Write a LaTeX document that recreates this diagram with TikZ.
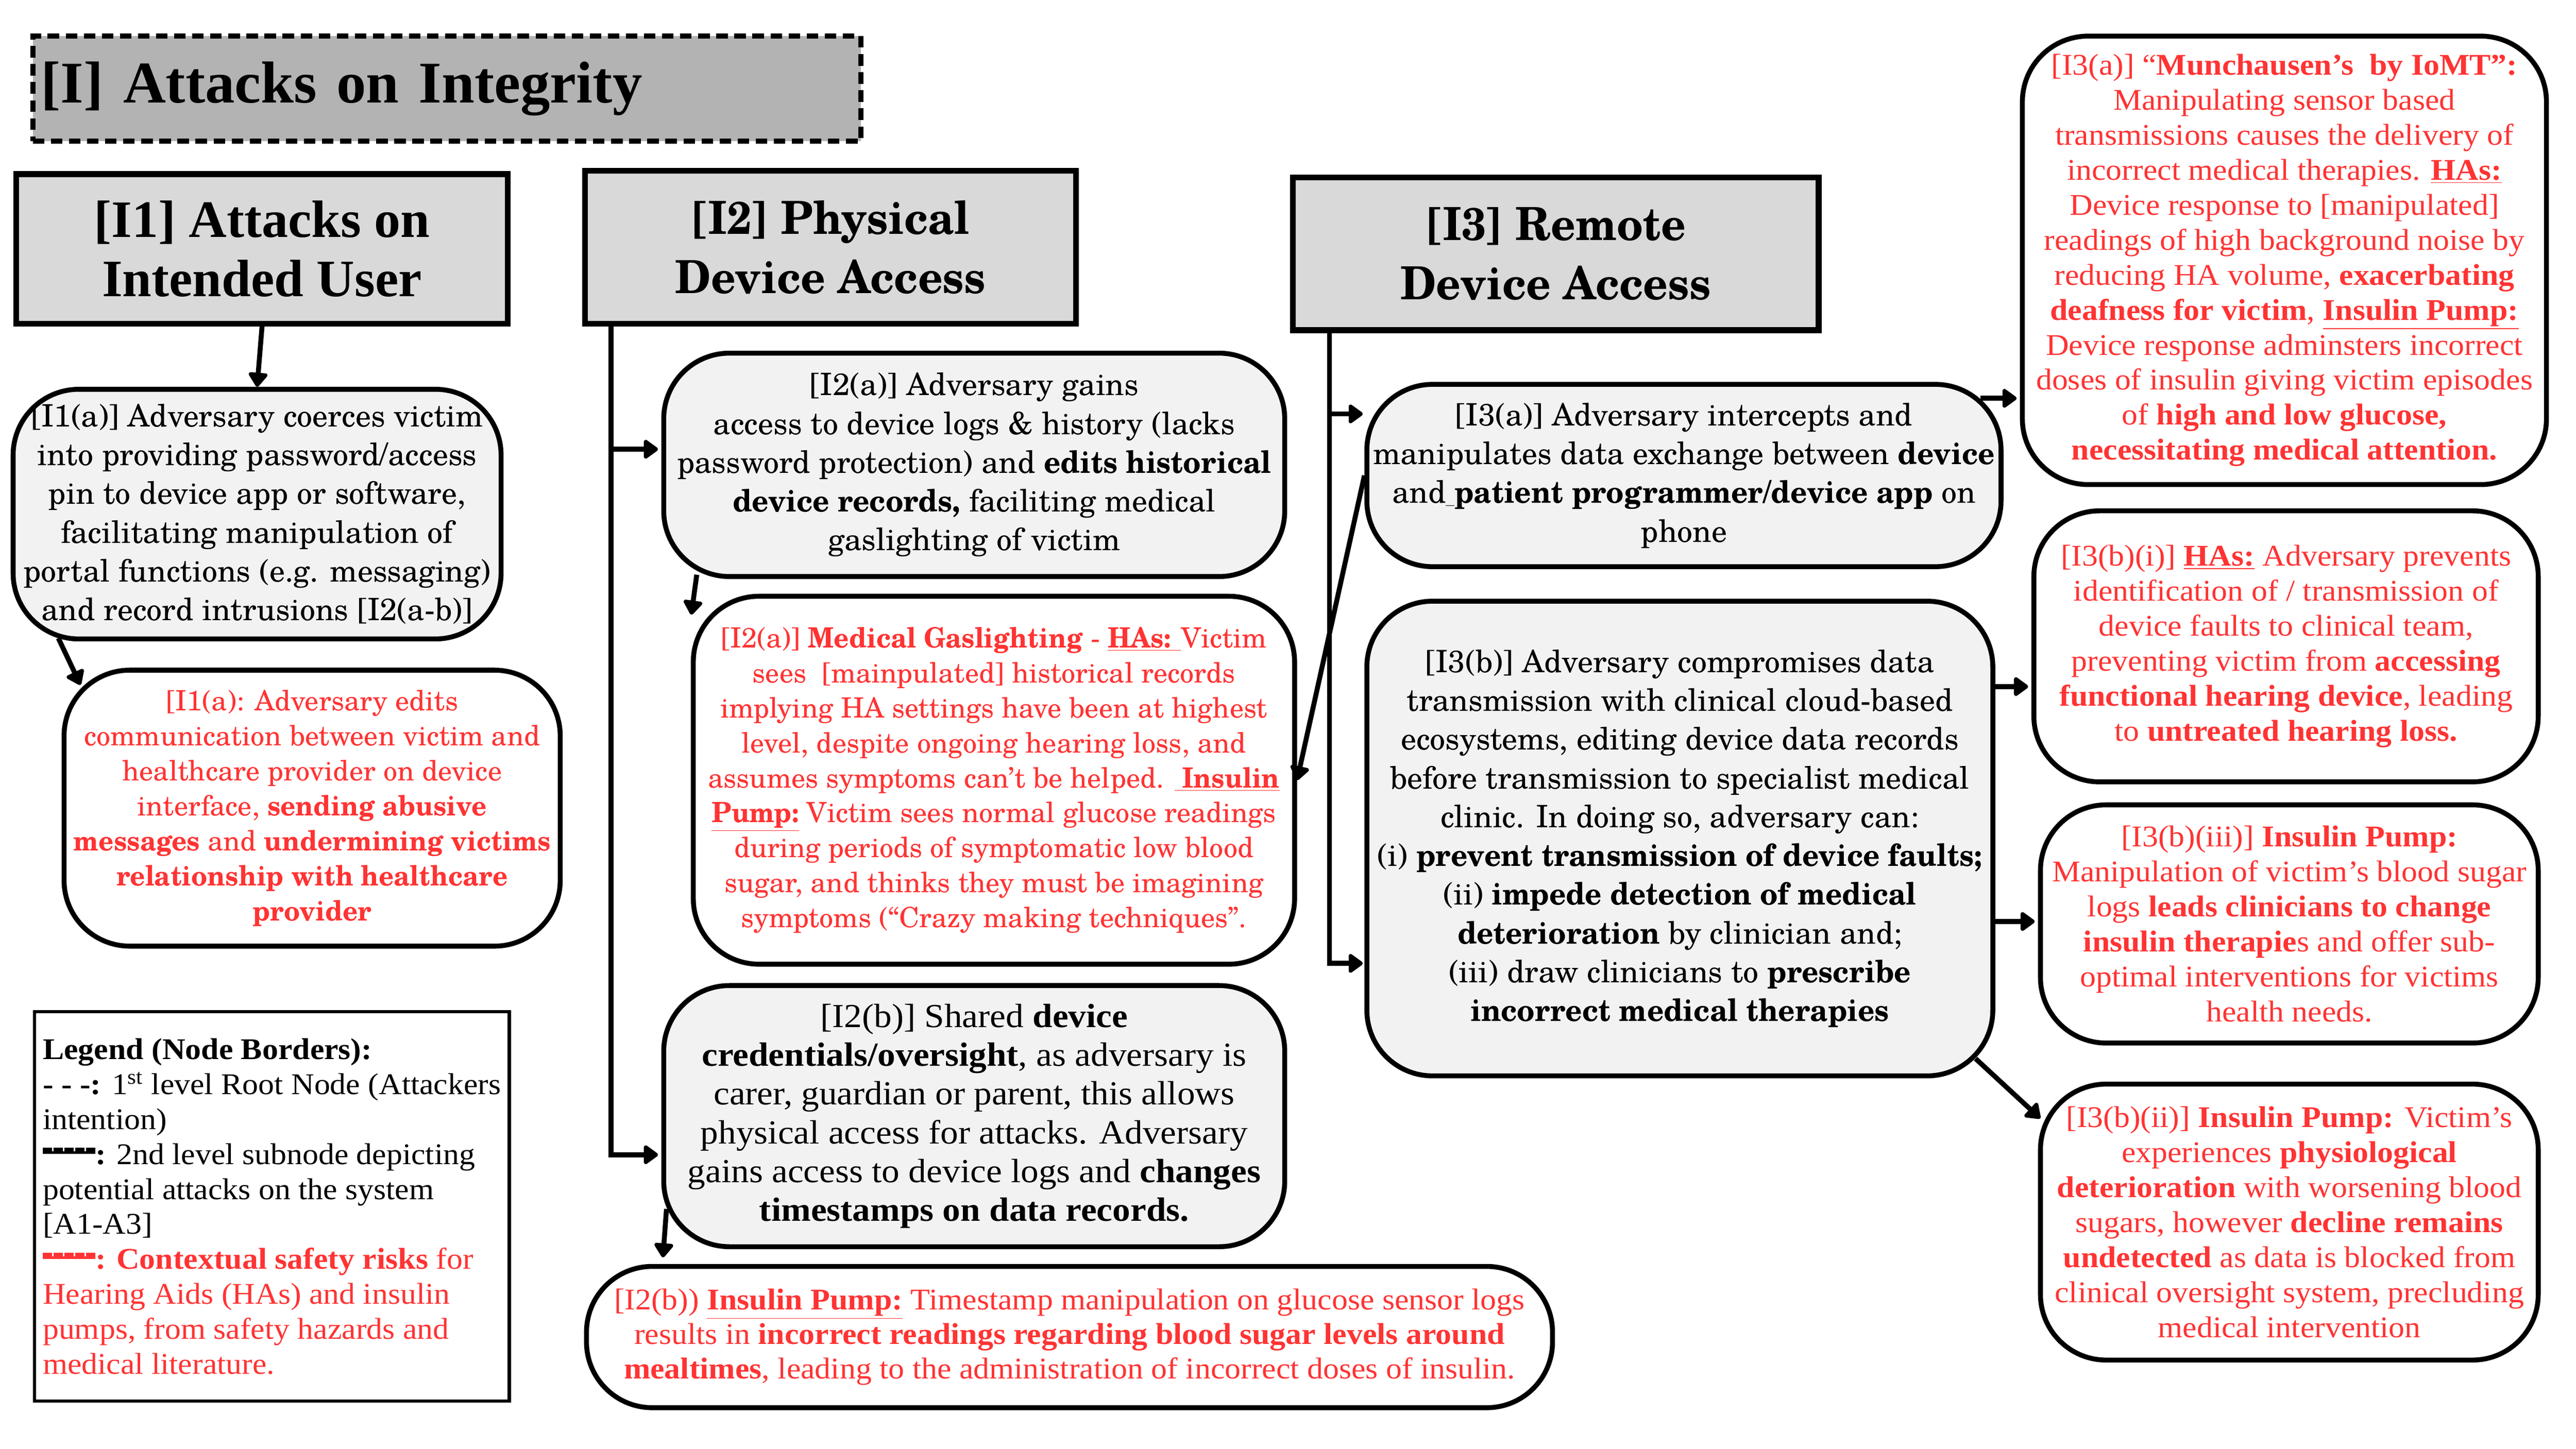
\documentclass[tikz,border=0pt]{standalone}
\usepackage{fontspec}
\setmainfont{Liberation Serif}
\newfontfamily\sch{texgyreschola}[Extension=.otf,UprightFont=*-regular,BoldFont=*-bold,ItalicFont=*-italic,BoldItalicFont=*-bolditalic,BoldFeatures={FakeStretch=0.94}]
\newfontfamily\tnr{Liberation Serif}[FakeStretch=1.06]
\usetikzlibrary{arrows.meta}
\definecolor{rd}{RGB}{255,51,51}
\definecolor{gA}{RGB}{179,179,179}
\definecolor{gB}{RGB}{217,217,217}
\definecolor{gC}{RGB}{242,242,242}
\newcommand{\dseg}{\rule[7pt]{5.6pt}{3pt}}
\newcommand{\dashbar}{\rlap{\rule[6.2pt]{32pt}{1.6pt}}\dseg\hspace{1pt}\dseg\hspace{1pt}\dseg\hspace{1pt}\dseg\hspace{1pt}\dseg}
\begin{document}
\begin{tikzpicture}[x=1pt,y=-1pt,
  hdr/.style={draw, line width=3.5pt, fill=gB, inner sep=0pt, align=center},
  sub/.style={draw, line width=3pt, fill=gC, rounded corners=40pt, inner sep=0pt, align=center},
  risk/.style={draw, line width=3pt, fill=white, rounded corners=40pt, inner sep=0pt, align=center, text=rd},
  arr/.style={line width=3pt, -{Triangle[length=9.5pt,width=13pt,round]}},
  schb/.style={font={\sch\fontsize{18.8}{23.6}\selectfont}},
  schr/.style={font={\sch\fontsize{17}{21.3}\selectfont}},
  tnrr/.style={font={\tnr\fontsize{18.3}{21.3}\selectfont}}
]
\useasboundingbox (0,0) rectangle (1568,882);

% root
\node[draw, line width=3pt, dash pattern=on 7pt off 4pt, fill=gA, minimum height=64pt,
  text width=494pt, inner xsep=5pt, inner ysep=0pt, align=left,
  font={\bfseries\fontsize{36}{40}\selectfont}] (root) at (272,54) {[I] Attacks on Integrity};

% headers
\node[hdr, minimum width=299pt, minimum height=91pt, font={\bfseries\fontsize{32}{36}\selectfont}] (i1h) at (159.5,151.5) {[I1] Attacks on\\Intended User};
\node[hdr, minimum width=299pt, minimum height=93pt, font={\sch\bfseries\fontsize{27.8}{36}\selectfont}] (i2h) at (505.5,150.5) {[I2] Physical\\Device Access};
\node[hdr, minimum width=320pt, minimum height=93pt, font={\sch\bfseries\fontsize{27.8}{36}\selectfont}] (i3h) at (947,154.5) {[I3] Remote\\Device Access};

% I1 column
\node[sub, schb, minimum width=297pt, minimum height=152pt] (i1a) at (156.5,313)
 {[I1(a)] Adversary coerces victim\\into providing password/access\\pin to device app or software,\\facilitating manipulation of\\portal functions (e.g. messaging)\\and record intrusions [I2(a-b)]};
\node[risk, schr, minimum width=302pt, minimum height=168pt] (i1r) at (190,492)
 {[I1(a): Adversary edits\\communication between victim and\\healthcare provider on device\\interface, \textbf{sending abusive}\\\textbf{messages} and \textbf{undermining victims}\\\textbf{relationship with healthcare}\\\textbf{provider}};

% legend
\node[draw, line width=2pt, fill=white, minimum width=289pt, minimum height=237pt, inner sep=0pt, align=left, tnrr] (leg) at (165.5,734.5)
 {\textbf{Legend (Node Borders):}\\
  \textbf{- - -:} 1\textsuperscript{st} level Root Node (Attackers\\
  intention)\\
  \dashbar\textbf{:} 2nd level subnode depicting\\
  potential attacks on the system\\
  {}[A1-A3]\\
  \textcolor{rd}{\dashbar\textbf{: Contextual safety risks} for}\\
  \textcolor{rd}{Hearing Aids (HAs) and insulin}\\
  \textcolor{rd}{pumps, from safety hazards and}\\
  \textcolor{rd}{medical literature.}};

% I2 column
\node[sub, schb, minimum width=378pt, minimum height=136pt] (i2a) at (593,283)
 {[I2(a)] Adversary gains\\access to device logs \& history (lacks\\password protection) and \textbf{edits historical}\\\textbf{device records,} faciliting medical\\gaslighting of victim};
\node[risk, schr, minimum width=366pt, minimum height=224pt] (i2r) at (605,475)
 {[I2(a)] \textbf{Medical Gaslighting} - \textbf{\underline{HAs: }}Victim\\sees\ \ [mainpulated] historical records\\implying HA settings have been at highest\\level, despite ongoing hearing loss, and\\assumes symptoms can’t be helped. \textbf{\underline{\ Insulin}}\\\textbf{\underline{Pump:}} Victim sees normal glucose readings\\during periods of symptomatic low blood\\sugar, and thinks they must be imagining\\symptoms (“Crazy making techniques”.};
\node[sub, minimum width=378pt, minimum height=159pt, font={\tnr\fontsize{20.5}{23.6}\selectfont}] (i2b) at (593,679.5)
 {[I2(b)] Shared \textbf{device}\\\textbf{credentials/oversight}, as adversary is\\carer, guardian or parent, this allows\\physical access for attacks. Adversary\\gains access to device logs and \textbf{changes}\\\textbf{timestamps on data records.}};
\node[risk, minimum width=588pt, minimum height=86pt, font={\tnr\fontsize{18.3}{21}\selectfont}] (i2br) at (651,814)
 {[I2(b)) \textbf{\underline{Insulin Pump:}} Timestamp manipulation on glucose sensor logs\\results in \textbf{incorrect readings regarding blood sugar levels around}\\\textbf{mealtimes}, leading to the administration of incorrect doses of insulin.};

% I3 column
\node[sub, schb, minimum width=386pt, minimum height=111pt] (i3a) at (1025,289.5)
 {[I3(a)] Adversary intercepts and\\manipulates data exchange between \textbf{device}\\and\underline{\ }\textbf{patient programmer/device app} on\\phone};
\node[sub, schb, minimum width=381pt, minimum height=289pt] (i3b) at (1022.5,510.5)
 {[I3(b)] Adversary compromises data\\transmission with clinical cloud-based\\ecosystems, editing device data records\\before transmission to specialist medical\\clinic. In doing so, adversary can:\\(i) \textbf{prevent transmission of device faults;}\\(ii) \textbf{impede detection of medical}\\\textbf{deterioration} by clinician and;\\(iii) draw clinicians to \textbf{prescribe}\\\textbf{incorrect medical therapies}};

% right risk column
\node[risk, tnrr, minimum width=319pt, minimum height=273pt] (i3ar) at (1390.5,158.5)
 {[I3(a)] “\textbf{Munchausen’s\ \ by IoMT”:}\\Manipulating sensor based\\transmissions causes the delivery of\\incorrect medical therapies. \textbf{\underline{HAs:}}\\Device response to [manipulated]\\readings of high background noise by\\reducing HA volume, \textbf{exacerbating}\\\textbf{deafness for victim}, \textbf{\underline{Insulin Pump:}}\\Device response adminsters incorrect\\doses of insulin giving victim episodes\\of \textbf{high and low glucose,}\\\textbf{necessitating medical attention.}};
\node[risk, tnrr, minimum width=307pt, minimum height=165pt] (i3bi) at (1391.5,393.5)
 {[I3(b)(i)] \textbf{\underline{HAs:}} Adversary prevents\\identification of / transmission of\\device faults to clinical team,\\preventing victim from \textbf{accessing}\\\textbf{functional hearing device}, leading\\to \textbf{untreated hearing loss.}};
\node[risk, tnrr, minimum width=303pt, minimum height=145pt] (i3biii) at (1393.5,562.5)
 {[I3(b)(iii)] \textbf{Insulin Pump:}\\Manipulation of victim’s blood sugar\\logs \textbf{leads clinicians to change}\\\textbf{insulin therapie}s and offer sub-\\optimal interventions for victims\\health needs.};
\node[risk, tnrr, minimum width=303pt, minimum height=168pt] (i3bii) at (1393.5,744)
 {[I3(b)(ii)] \textbf{Insulin Pump:} Victim’s\\experiences \textbf{physiological}\\\textbf{deterioration} with worsening blood\\sugars, however \textbf{decline remains}\\\textbf{undetected} as data is blocked from\\clinical oversight system, precluding\\medical intervention};

% connectors
\draw[arr] (i1h.south) -- (i1a.north);
\draw[arr] ([xshift=29pt,yshift=2pt]i1a.south west) -- ([xshift=11.5pt,yshift=-10.5pt]i1r.north west);

\coordinate (sp2) at ([xshift=17.6pt]i2h.south west);
\coordinate (i2aIn) at ([xshift=-2pt,yshift=9.5pt]i2a.west);
\coordinate (i2bIn) at ([xshift=-2pt,yshift=-23.5pt]i2b.west);
\draw[arr] (sp2) |- (i2bIn);
\draw[arr] (sp2 |- i2aIn) -- (i2aIn);
\draw[arr] ([xshift=21.6pt,yshift=2.6pt]i2a.south west) -- ([xshift=0.3pt,yshift=-12.7pt]i2r.north west);
\draw[arr] ([xshift=3.2pt,yshift=24.5pt]i2b.south west) -- ([xshift=48pt,yshift=4pt]i2br.north west);

\coordinate (sp3) at ([xshift=24pt]i3h.south west);
\coordinate (i3aIn) at ([xshift=-1pt,yshift=37.5pt]i3a.west);
\coordinate (i3bIn) at ([xshift=-1pt,yshift=-76pt]i3b.west);
\draw[arr] (sp3) |- (i3bIn);
\draw[arr] (sp3 |- i3aIn) -- (i3aIn);
\draw[arr] (i3a.west) -- (i2r.east);

\coordinate (i3aOut) at ([xshift=-14pt,yshift=47pt]i3a.east);
\draw[arr] (i3aOut) -- ([xshift=-2pt]i3aOut -| i3ar.west);
\coordinate (i3bOut1) at ([xshift=-2pt,yshift=92.5pt]i3b.east);
\draw[arr] (i3bOut1) -- ([xshift=-2pt]i3bOut1 -| i3bi.west);
\coordinate (i3bOut2) at ([xshift=-2pt,yshift=-50.5pt]i3b.east);
\draw[arr] (i3bOut2) -- ([xshift=-2pt]i3bOut2 -| i3biii.west);
\draw[arr] ([xshift=-12pt,yshift=12pt]i3b.south east) -- ([xshift=1.4pt,yshift=-22.4pt]i3bii.north west);
\end{tikzpicture}
\end{document}
